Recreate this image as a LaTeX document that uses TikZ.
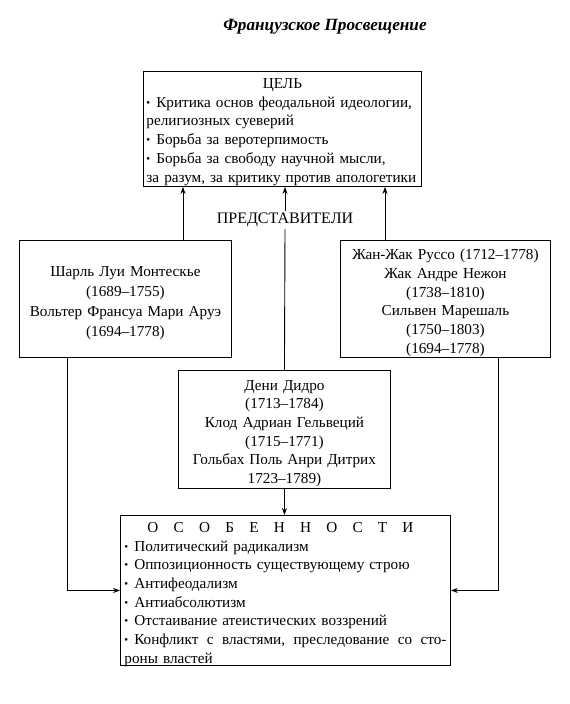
\documentclass[tikz,border=0pt]{standalone}
\usepackage{fontspec}
\setmainfont{Liberation Serif}
\usetikzlibrary{arrows.meta}
\newcommand{\bul}{{\fontsize{11}{11}\selectfont\raisebox{1pt}{•}}\hspace{6pt}}
\tikzset{
  frame/.style={draw, line width=0.9pt, anchor=north west, inner sep=0pt},
  txt/.style={inner sep=0pt, align=center, font=\fontsize{15.2}{18.7}\selectfont},
  conn/.style={line width=0.9pt},
  arr/.style={conn, -{Stealth[length=7pt,width=5pt]}},
}
\begin{document}
\begin{tikzpicture}[x=1pt,y=-1pt]
\useasboundingbox (0,0) rectangle (570,704);
\node[font=\fontsize{17.2}{19}\selectfont\bfseries\itshape] (title) at (325,27) {Французское Просвещение};
% goal
\node[frame, minimum width=278pt, minimum height=115pt] (goal) at (143,71) {};
\node[txt, text width=272pt, align=left] (goalt) at ([yshift=-3pt]goal.center)
 {\makebox[\linewidth]{ЦЕЛЬ}\\
 \bul Критика основ феодальной идеологии,\\
 религиозных суеверий\\
 \bul Борьба за веротерпимость\\
 \bul Борьба за свободу научной мысли,\\
 за разум, за критику против апологетики};
% left
\node[frame, minimum width=212pt, minimum height=117pt] (left) at (19,240) {};
\node[txt, text width=208pt, font=\fontsize{15.2}{20.2}\selectfont] (leftt) at ([yshift=-4pt]left.center)
 {Шарль Луи Монтескье\\(1689–1755)\\Вольтер Франсуа Мари Аруэ\\(1694–1778)};
% right
\node[frame, minimum width=210pt, minimum height=117pt] (right) at (340,240) {};
\node[txt, text width=206pt] (rightt) at ([yshift=-4pt]right.center)
 {Жан-Жак Руссо (1712–1778)\\Жак Андре Нежон\\(1738–1810)\\Сильвен Марешаль\\(1750–1803)\\(1694–1778)};
% middle
\node[frame, minimum width=212pt, minimum height=118pt] (mid) at (178,370) {};
\node[txt, text width=208pt] (midt) at ([yshift=-4pt]mid.center)
 {Дени Дидро\\(1713–1784)\\Клод Адриан Гельвеций\\(1715–1771)\\Гольбах Поль Анри Дитрих\\1723–1789)};
% features
\node[frame, minimum width=330pt, minimum height=150pt] (feat) at (120,515) {};
\node[txt, text width=322pt, align=left] (featt) at ([yshift=-4pt]feat.center)
 {\hspace*{23pt}\makebox[266pt][s]{О\hfill С\hfill О\hfill Б\hfill Е\hfill Н\hfill Н\hfill О\hfill С\hfill Т\hfill И}\\
 \bul Политический радикализм\\
 \bul Оппозиционность существующему строю\\
 \bul Антифеодализм\\
 \bul Антиабсолютизм\\
 \bul Отстаивание атеистических воззрений\\
 \makebox[\linewidth][s]{\bul Конфликт\hfill с\hfill властями,\hfill преследование\hfill со\hfill сто-}\\
 роны властей};
\node[font=\fontsize{16}{18}\selectfont, inner sep=2pt] (rep) at (285,220) {ПРЕДСТАВИТЕЛИ};
\coordinate (lx) at (67,0);
\coordinate (rx) at (498,0);
\coordinate (ax) at (183,0);
\coordinate (bx) at (385,0);
\draw[arr] (left.north -| ax) -- (goal.south -| ax);
\draw[arr] (right.north -| bx) -- (goal.south -| bx);
\draw[arr] (rep.north) -- (goal.south -| rep.north);
\draw[conn] (mid.north) -- (rep.south);
\draw[arr] (mid.south) -- (feat.north -| mid.south);
\draw[arr] (left.south -| lx) |- (feat.west);
\draw[arr] (right.south -| rx) |- (feat.east);
\end{tikzpicture}
\end{document}
